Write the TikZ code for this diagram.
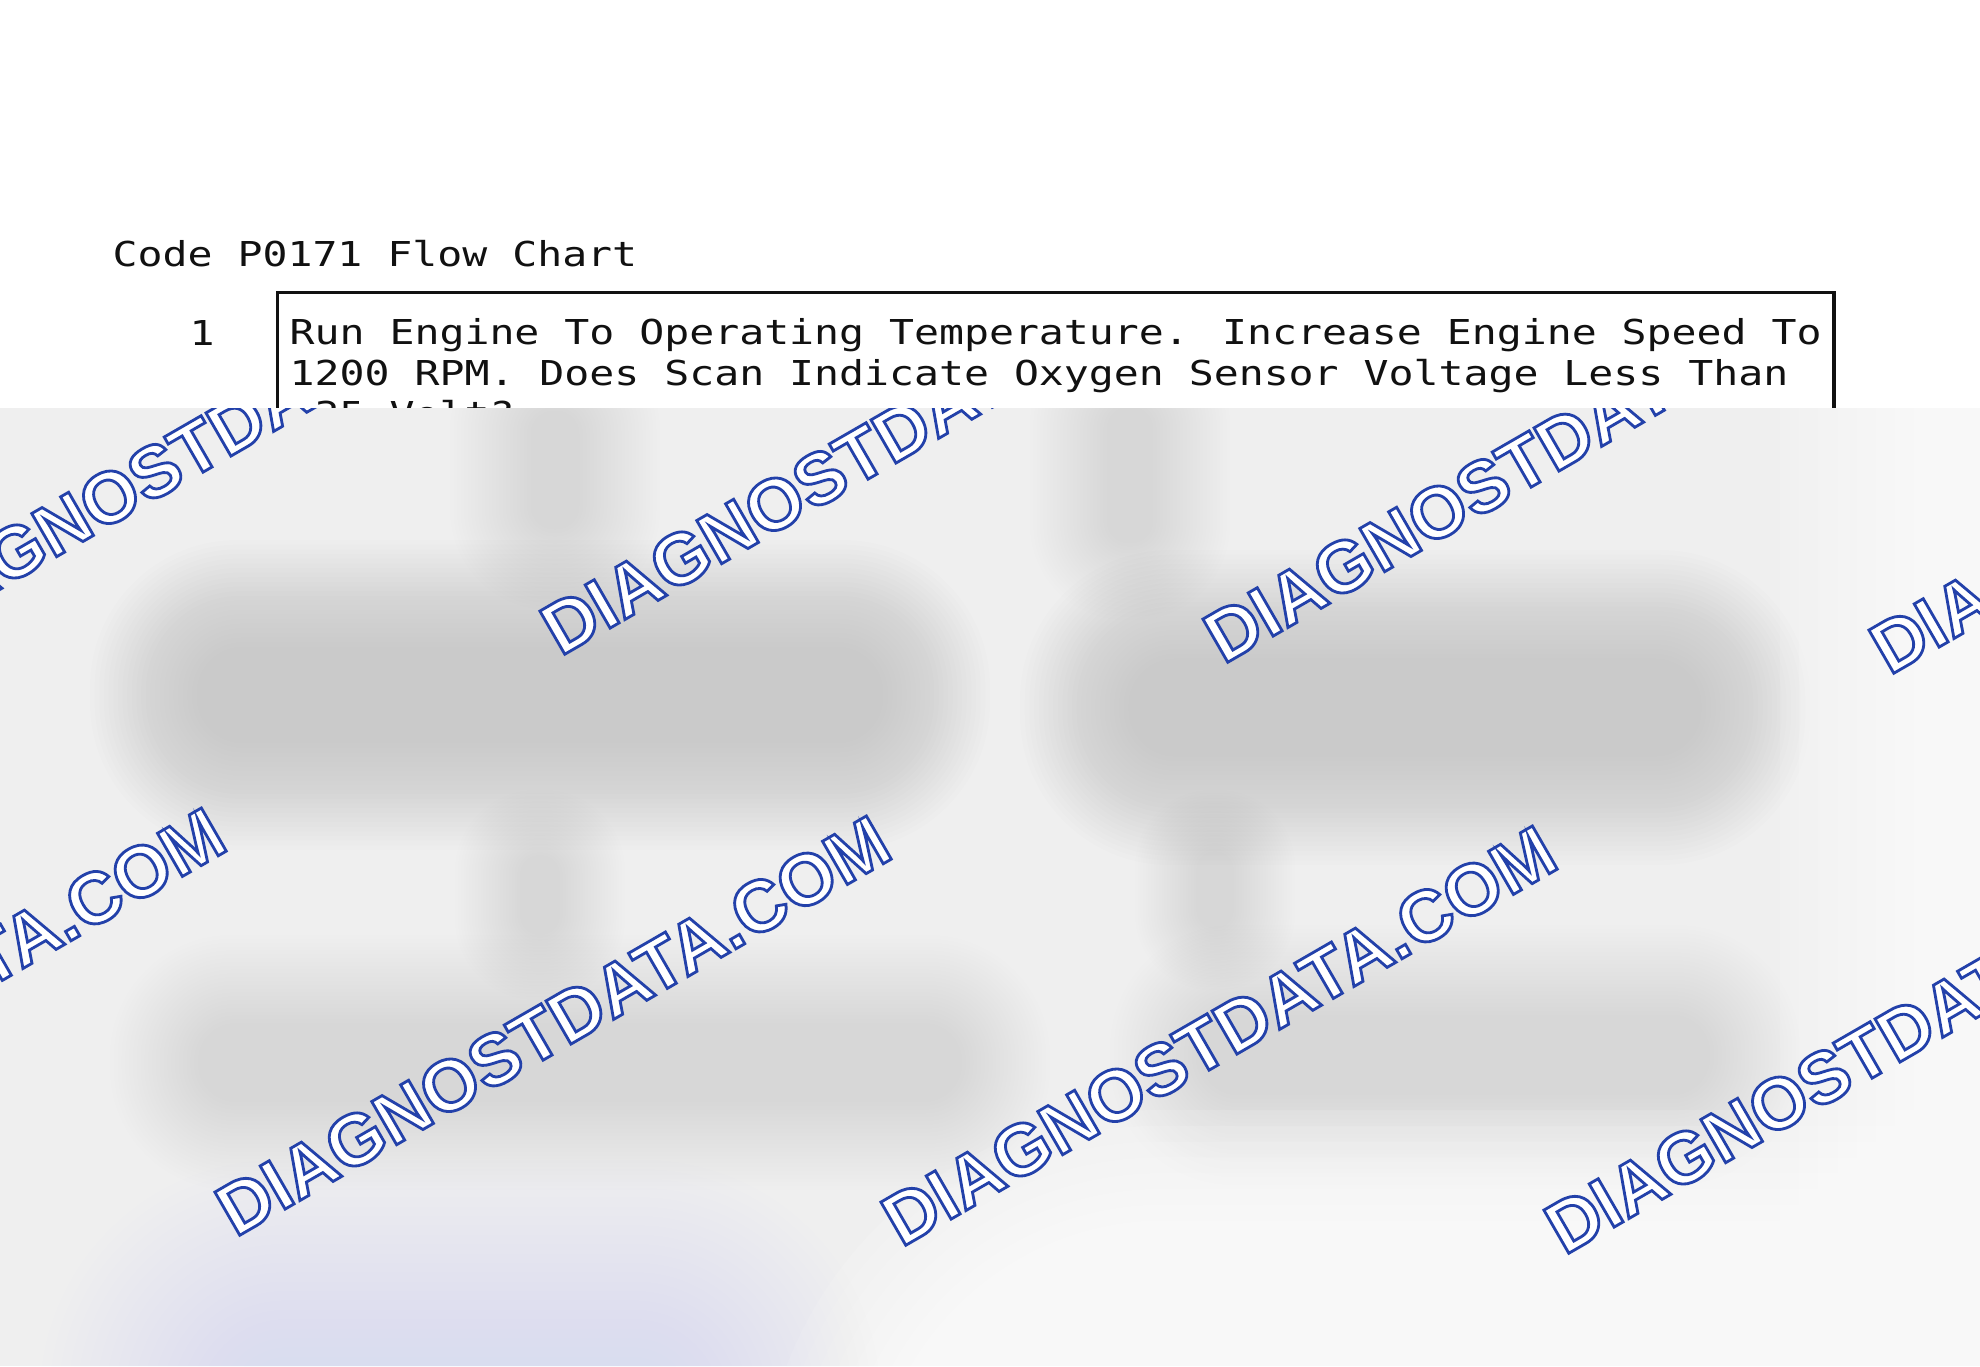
\documentclass[tikz,border=0pt]{standalone}
\usepackage{fontspec}
\newfontfamily\monof[FakeStretch=1.21]{DejaVu Sans Mono}
\newfontfamily\wmf{Liberation Sans}
\usetikzlibrary{calc}
\definecolor{wmblue}{RGB}{35,65,170}
\definecolor{bandgray}{RGB}{239,239,239}
\definecolor{bluish}{RGB}{215,221,240}
\definecolor{inkblack}{RGB}{17,17,17}

% soft (blurred) rounded box: x1,y1,x2,y2,colour,opacity per layer,fraction of half-size that fades
\newcommand\softbox[7]{%
  \pgfmathsetmacro\sbh{min(#3-#1,#4-#2)/2}%
  \pgfmathsetmacro\sbd{\sbh*#7/24}%
  \foreach \k in {0,...,23}{%
    \pgfmathsetmacro\ia{#1+\k*\sbd}\pgfmathsetmacro\ib{#2+\k*\sbd}%
    \pgfmathsetmacro\ic{#3-\k*\sbd}\pgfmathsetmacro\id{#4-\k*\sbd}%
    \pgfmathsetlengthmacro\rr{(\sbh-\k*\sbd)*0.95*0.01cm}%
    \fill[#5, fill opacity=#6, rounded corners=\rr] (\ia,\ib) rectangle (\ic,\id);
  }%
}
% outlined watermark text (white fill, blue stroke): name, x, y (start of baseline)
\newcommand\wmark[3]{%
  \node[wmtext] (#1) at (#2,#3) {\special{pdf:literal direct 0.137 0.255 0.667 RG 2 Tr 0.8 w}DIAGNOSTDATA.COM\special{pdf:literal direct 0 Tr}};
}

\begin{document}
\begin{tikzpicture}[x=0.01cm,y=-0.01cm,
  mono/.style={font=\monof\fontsize{9.75}{11.67}\selectfont, inner sep=0, anchor=base west, text=inkblack},
  wmtext/.style={font=\wmf\bfseries\fontsize{20.6}{25}\selectfont, text=white, inner sep=0, anchor=base west, rotate=30},
  stepbox/.style={draw=inkblack, line width=0.035cm, inner sep=0, outer sep=0, minimum width=15.553cm, minimum height=3cm, anchor=north west}
]
\useasboundingbox (0,0) rectangle (1980,1366);
\fill[white] (0,0) rectangle (1980,1366);

% visible top of the flow chart
\node[mono] (title) at (112,266) {Code P0171 Flow Chart};
\node[mono, anchor=base] (num1) at (202,345) {1};
\node[stepbox] (step1) at (277.7,292.7) {};
\node[mono] (l1) at (289,344) {Run Engine To Operating Temperature. Increase Engine Speed To};
\node[mono] (l2) at (289,385) {1200 RPM. Does Scan Indicate Oxygen Sensor Voltage Less Than};
\node[mono] (l3) at (289,426) {.35 Volt?};

% blurred lower part
\begin{scope}
  \clip (0,408) rectangle (1980,1366);
  \fill[bandgray] (0,408) rectangle (1980,1366);
  % upper row of blurred boxes
  \softbox{90}{540}{990}{850}{black!66}{0.0078}{0.72}
  \softbox{1020}{550}{1810}{865}{black!66}{0.0078}{0.72}
  % connectors from above
  \softbox{450}{330}{660}{610}{black!62}{0.0039}{0.8}
  \softbox{1030}{330}{1230}{620}{black!62}{0.0039}{0.8}
  % connectors between rows
  \softbox{455}{790}{625}{1000}{black!30}{0.0039}{0.8}
  \softbox{1135}{790}{1295}{990}{black!30}{0.0039}{0.8}
  % lower row of blurred boxes
  \softbox{110}{935}{1050}{1190}{black}{0.0039}{0.72}
  \softbox{1110}{925}{1800}{1185}{black!90}{0.0039}{0.72}
  % light margins
  \softbox{1780}{-300}{2800}{2000}{white}{0.13}{0.9}
  \softbox{760}{1110}{2700}{1950}{white}{0.13}{0.9}
  \softbox{-500}{300}{120}{1900}{white}{0.022}{0.9}
  % bluish bottom-left patch
  \softbox{40}{1160}{880}{1660}{bluish}{0.0078}{0.9}

  % watermarks
  \wmark{wmA}{-105}{650}
  \wmark{wmB}{560}{657}
  \wmark{wmC}{1223}{665}
  \wmark{wmD}{1889}{676}
  \wmark{wmE}{-430}{1230}
  \wmark{wmF}{235}{1238}
  \wmark{wmG}{901}{1248}
  \wmark{wmH}{1564}{1256}
\end{scope}
\end{tikzpicture}
\end{document}
